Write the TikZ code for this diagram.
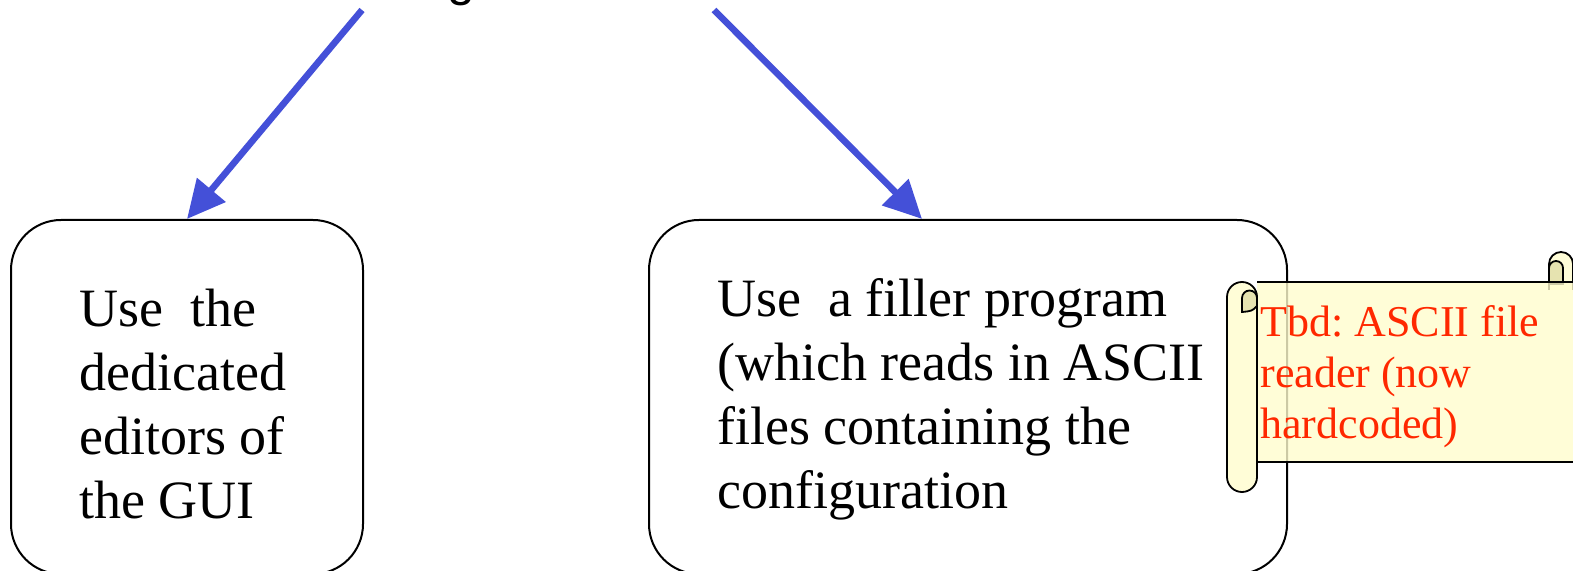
\documentclass[tikz,border=0pt]{standalone}
\usepackage{fontspec}
\setmainfont{Liberation Serif}
\newfontfamily\topsans{Liberation Sans}
\usetikzlibrary{arrows.meta}
\frenchspacing
\definecolor{arrowblue}{RGB}{68,80,216}
\definecolor{scrollfill}{RGB}{255,252,205}
\definecolor{curlfill}{RGB}{228,224,172}
\definecolor{tbdred}{RGB}{255,40,0}
\tikzset{
  boxnode/.style={draw=black, line width=1pt, rounded corners=25pt, minimum width=176pt, inner sep=0pt},
  boxtext/.style={font=\fontsize{27pt}{32pt}\selectfont, align=left, anchor=north west, inner sep=0pt},
  flowarrow/.style={draw=arrowblue, line width=3.3pt, -{Triangle[length=19pt,width=18pt]}},
  scrollpart/.style={draw=black, line width=0.9pt, fill=scrollfill, fill opacity=0.8},
  curlpart/.style={draw=black, line width=0.9pt, fill=curlfill, fill opacity=0.9},
  redtext/.style={font=\fontsize{22pt}{25.5pt}\selectfont, text=tbdred, align=left, anchor=north west, inner sep=0pt}
}
\begin{document}
\begin{tikzpicture}[x=0.5pt,y=-0.5pt]
\useasboundingbox (0,0) rectangle (1573,571);
\clip (0,0) rectangle (1573,571);
% partially visible heading
\node[font=\topsans\fontsize{25pt}{30pt}\selectfont, anchor=base, inner sep=0pt] (top) at (461,-4) {g};
\coordinate (a1) at (362,10);
\coordinate (a2) at (714,10);
% boxes
\node[boxnode, minimum width=176pt, minimum height=177pt] (lbox) at (187,397) {};
\node[boxnode, minimum width=319pt, minimum height=177pt] (rbox) at (968,397) {};
\node[boxtext] (ltext) at (79,289) {Use~ the\\dedicated\\editors of\\the GUI};
\node[boxtext] (rtext) at (717,278) {Use~ a filler program\\(which reads in ASCII\\files containing the\\configuration};
% arrows
\draw[flowarrow] (a1) -- (lbox.north);
\draw[flowarrow] (a2) -- ([xshift=-23pt]rbox.north);
% scroll: right top roll
\path[scrollpart] (1549,290) -- (1549,264) arc[start angle=180,end angle=360,radius=12] -- (1573,290);
\path[curlpart] (1549,284) -- (1549,268) arc[start angle=180,end angle=360,radius=7] -- (1563,284) -- cycle;
% scroll body (left edge hidden by the roll)
\path[scrollpart] (1257,282) -- (1600,282) -- (1600,462) -- (1257,462);
% left roll
\path[scrollpart] (1227,477) -- (1227,297) arc[start angle=180,end angle=360,radius=15] -- (1257,477) arc[start angle=0,end angle=180,radius=15] -- cycle;
\path[curlpart] (1242,312) -- (1242,298) arc[start angle=180,end angle=360,radius=7.5] -- (1257,306) .. controls (1252,311) .. (1242,312) -- cycle;
\node[redtext] (tbd) at (1260,305) {Tbd: ASCII file\\reader (now\\hardcoded)};
\end{tikzpicture}
\end{document}
